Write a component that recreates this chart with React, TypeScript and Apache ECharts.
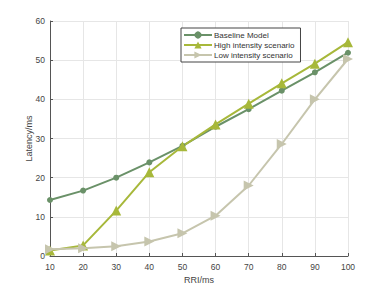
import React, { useEffect, useRef } from "react";
import * as echarts from "echarts";

const categories = [10, 20, 30, 40, 50, 60, 70, 80, 90, 100];
const baseline = [14.3, 16.7, 20.0, 23.9, 28.1, 33.0, 37.5, 42.2, 46.9, 51.9];
const high = [1.4, 2.7, 11.6, 21.4, 28.0, 33.6, 38.9, 44.1, 49.1, 54.6];
const low = [1.7, 2.0, 2.5, 3.7, 5.8, 10.3, 18.0, 28.6, 40.0, 50.3];

const FONT = "Liberation Sans, Arial, sans-serif";

export default function App() {
  const ref = useRef<HTMLDivElement>(null);
  useEffect(() => {
    const chart = echarts.init(ref.current!, undefined, { renderer: "svg" });
    const mk = (name: string, data: number[], color: string, symbol: string, size: number, rot = 0) => ({
      name,
      type: "line",
      data: categories.map((c, i) => [c, data[i]]),
      symbol,
      symbolSize: size,
      symbolRotate: rot,
      lineStyle: { color, width: 2 },
      itemStyle: { color },
      color,
    });
    chart.setOption({
      animation: false,
      textStyle: { fontFamily: FONT },
      grid: { left: 50, right: 37, top: 21, bottom: 32, containLabel: false },
      legend: {
        orient: "vertical",
        left: 181,
        top: 28,
        width: 117,
        padding: [3, 6, 3, 2],
        itemGap: 2,
        itemWidth: 28,
        itemHeight: 9,
        borderColor: "#444",
        borderWidth: 1,
        backgroundColor: "#fff",
        textStyle: { fontSize: 8, color: "#333", fontFamily: FONT, padding: [0, 0, 0, -3] },
        data: ["Baseline Model", "High intensity scenario", "Low intensity scenario"],
      },
      xAxis: {
        type: "value",
        min: 10,
        max: 100,
        interval: 10,
        name: "RRI/ms",
        nameLocation: "middle",
        nameGap: 19,
        nameMoveOverlap: false,
        nameTextStyle: { fontSize: 9, color: "#444" },
        axisLine: { lineStyle: { color: "#555", width: 1 } },
        axisTick: { inside: true, length: 3, lineStyle: { color: "#555" } },
        axisLabel: { fontSize: 8.5, color: "#444", margin: 6 },
        splitLine: { show: true, lineStyle: { color: "#e6e6e6", width: 1 } },
      },
      yAxis: {
        type: "value",
        min: 0,
        max: 60,
        interval: 10,
        name: "Latency/ms",
        nameLocation: "middle",
        nameGap: 17,
        nameMoveOverlap: false,
        nameTextStyle: { fontSize: 9, color: "#444" },
        axisLine: { show: true, lineStyle: { color: "#555", width: 1 } },
        axisTick: { show: true, inside: true, length: 3, lineStyle: { color: "#555" } },
        axisLabel: { fontSize: 8.5, color: "#444", margin: 5 },
        splitLine: { show: true, lineStyle: { color: "#e6e6e6", width: 1 } },
      },
      series: [
        mk("Baseline Model", baseline, "#6a9168", "circle", 6),
        mk("High intensity scenario", high, "#a7b83a", "triangle", 10),
        mk("Low intensity scenario", low, "#c6c5ad", "triangle", 10, -90),
      ],
    });
    return () => chart.dispose();
  }, []);
  return <div ref={ref} style={{ width: 385, height: 289, position: "absolute", left: 0, top: 0 }} />;
}
